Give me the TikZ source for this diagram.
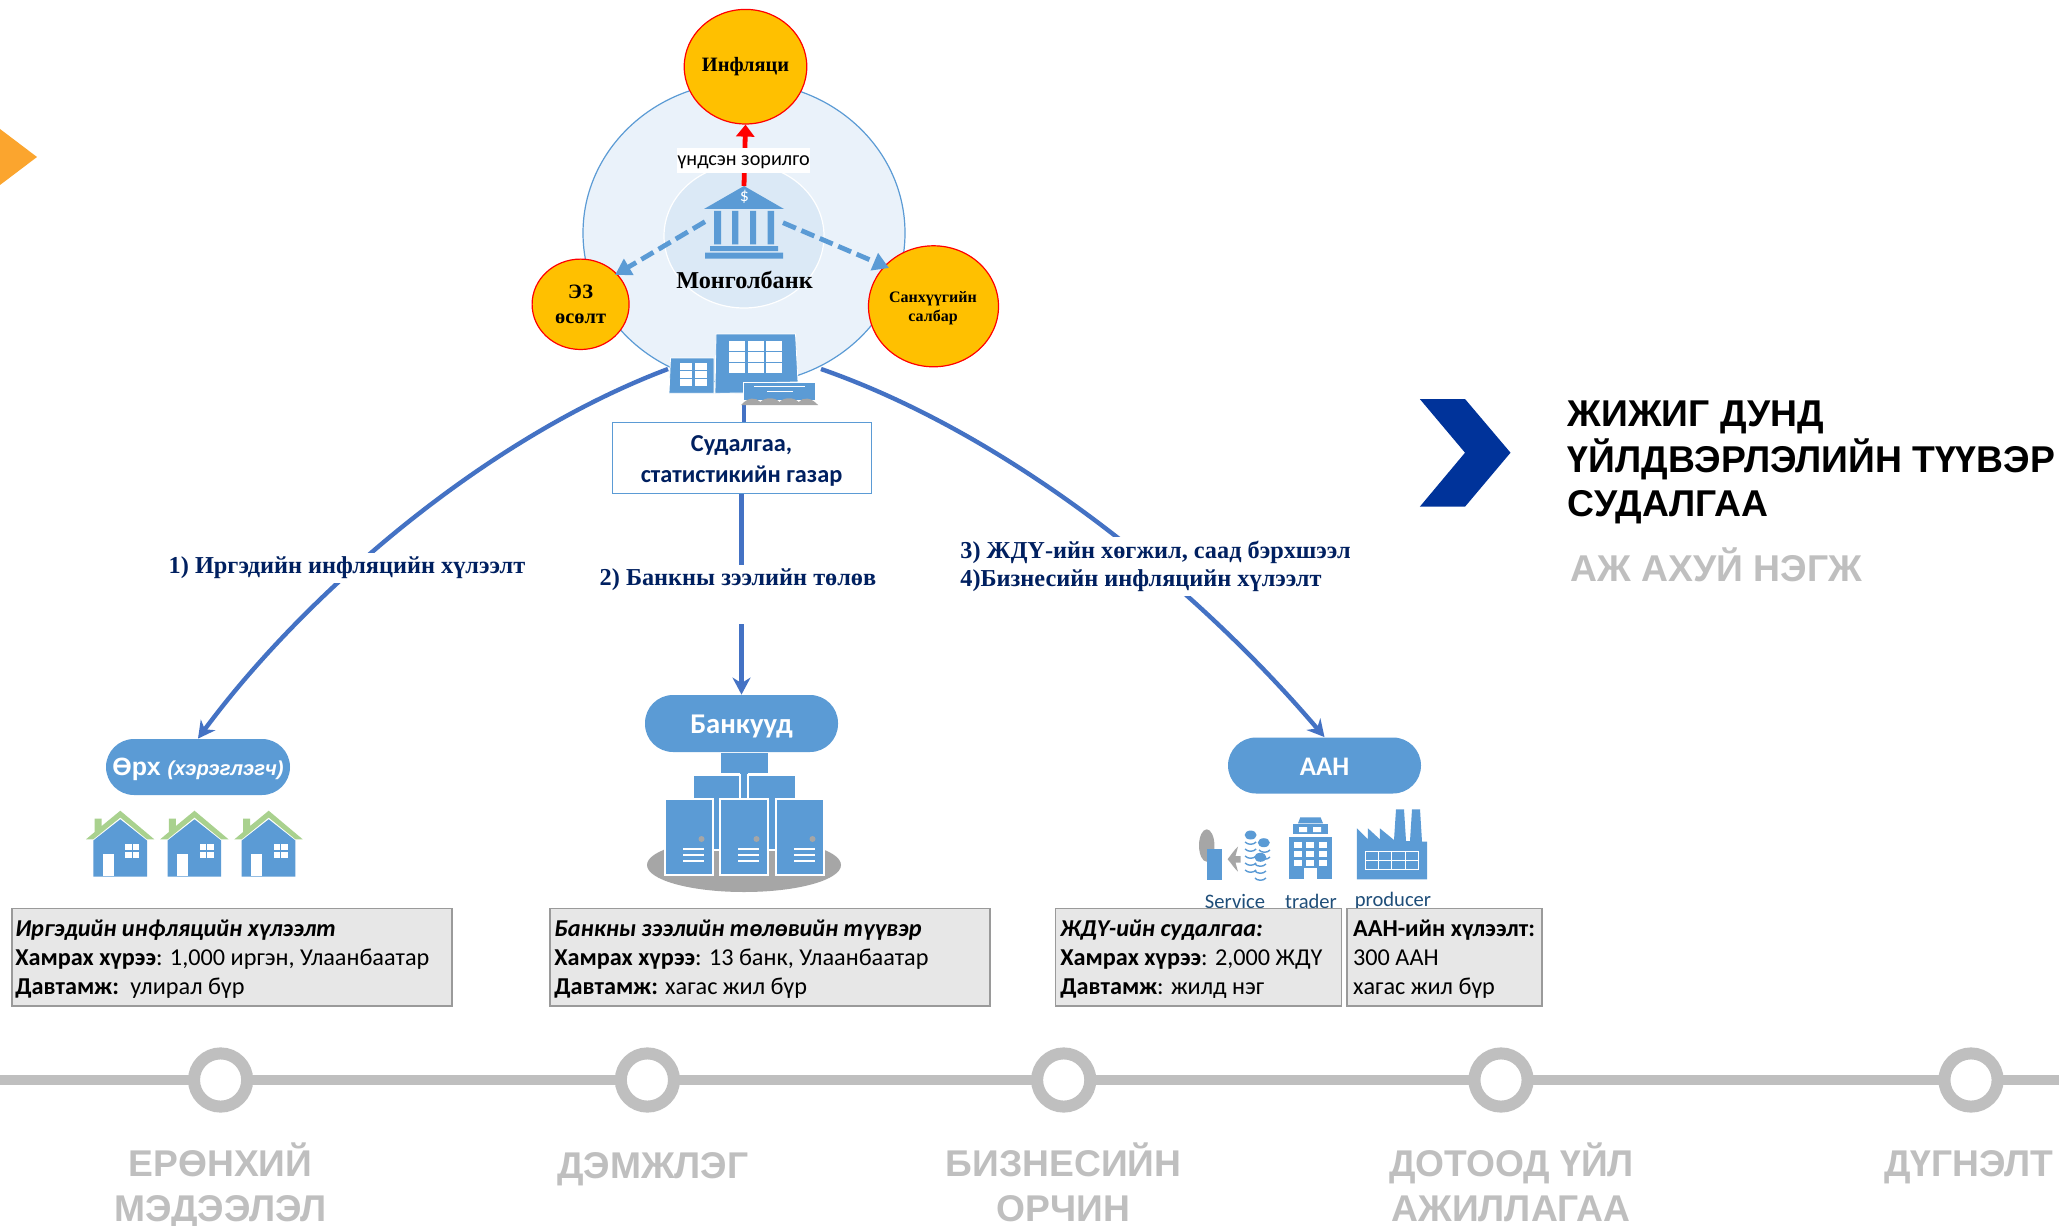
\documentclass[tikz,border=0pt]{standalone}
\usepackage{fontspec}
\setmainfont{Liberation Serif}
\newfontfamily\arialf{Liberation Sans}
\newfontfamily\calf{Carlito}
\usetikzlibrary{arrows.meta,shapes.geometric}
\definecolor{iconblue}{HTML}{5B9BD5}
\definecolor{linkblue}{HTML}{4472C4}
\definecolor{navy}{HTML}{002060}
\definecolor{amber}{HTML}{FFC000}
\definecolor{railgray}{HTML}{BFBFBF}
\definecolor{boxfill}{HTML}{E7E7E7}
\definecolor{boxline}{HTML}{9A9A9A}
\definecolor{darkgray}{HTML}{A6A6A6}
\definecolor{roofgreen}{HTML}{A9D18E}
\definecolor{chevron}{HTML}{00339A}
\definecolor{cornerorange}{HTML}{FBA52E}
\definecolor{iconlabel}{HTML}{1F4E79}
\newcommand{\fsz}[1]{\fontsize{#1}{#1}\selectfont}
\newcommand{\drawhouse}[1]{%
  \begin{scope}[shift={(#1,0)}]
    \fill[roofgreen] (86,839.3) -- (94.7,832) -- (94.7,818.7) -- (101.7,818.7) -- (101.7,826) -- (120.3,810.7) -- (154.3,839.3) -- (147,839.3) -- (120.3,817.5) -- (93.3,839.3) -- cycle;
    \fill[iconblue] (93.3,876.7) -- (93.3,840.5) -- (120.3,819.3) -- (147,840.5) -- (147,876.7) -- cycle;
    \fill[white] (102.7,854) rectangle (114,875.7);
    \fill[white] (125.3,844.3) rectangle (131.6,850.3);
    \fill[white] (133,844.3) rectangle (139.3,850.3);
    \fill[white] (125.3,852) rectangle (131.6,858);
    \fill[white] (133,852) rectangle (139.3,858);
  \end{scope}}
\newcommand{\drawserver}[1]{%
  \begin{scope}[shift={(#1,0)}]
    \draw[white,line width=0.6pt,fill=iconblue] (665,799) rectangle (713,875);
    \fill[darkgray] (701.5,839) circle (3);
    \draw[white,line width=0.7pt] (683,849) -- (704,849) (683,855) -- (704,855) (683,861) -- (704,861);
  \end{scope}}
\newcommand{\coinarc}[2]{\draw[iconblue,line width=0.7pt] (#1-5.5,#2) .. controls (#1-3,#2+3) and (#1+3,#2+3) .. (#1+5.5,#2);}
\tikzset{
  orb/.style={ellipse,draw=red,line width=0.6pt,fill=amber,inner sep=0pt},
  pill/.style={rounded corners=14pt,fill=iconblue,inner sep=0pt},
  pilltext/.style={inner sep=0pt,text=white,font=\calf\bfseries\fsz{14.3}},
  infobox/.style={fill=boxfill,draw=boxline,line width=0.7pt},
  infotext/.style={anchor=base west,inner sep=0pt,font=\calf\fsz{12.12}},
  flowlabel/.style={fill=white,inner sep=2pt,text=navy,font=\bfseries\fsz{12.15}},
  link/.style={linkblue,line width=2.2pt,-{Stealth[length=8.5pt,width=9pt]}},
  dashlink/.style={iconblue,line width=2.4pt,dash pattern=on 7pt off 3pt,-{Triangle[length=8pt,width=9pt]}},
  railtext/.style={anchor=base,inner sep=0pt,text=railgray,font=\arialf\bfseries\fsz{18.6}},
  railstop/.style={circle,draw=railgray,line width=6pt,fill=white,minimum size=26.6pt,inner sep=0pt},
  titletext/.style={anchor=base west,inner sep=0pt,font=\arialf\bfseries\fsz{18.65}},
  icontext/.style={inner sep=0pt,text=iconlabel,font=\calf\fsz{10.3}},
}
\begin{document}
\begin{tikzpicture}[x=0.5pt,y=-0.5pt]
\useasboundingbox (0,0) rectangle (2059,1225);
\fill[white] (0,0) rectangle (2059,1225);
% corner triangle
\fill[cornerorange] (0,129) -- (37,157) -- (0,185) -- cycle;
% central rings
\draw[fill=iconblue!13,draw=iconblue,line width=0.6pt] (744,233) ellipse [x radius=161,y radius=151];
\draw[fill=iconblue!22,draw=white,line width=0.6pt] (744,236) ellipse [x radius=80,y radius=72];
% bank icon
\fill[iconblue] (744,186) -- (784,209) -- (704,209) -- cycle;
\node[text=white,inner sep=0pt,font=\calf\fsz{9}] (dollar) at (744.5,197) {\$};
\fill[iconblue] (714.2,211) rectangle (721,244.3) (732,211) rectangle (738.3,244.3) (750,211) rectangle (756.2,244.3) (767.6,211) rectangle (774,244.3);
\fill[iconblue] (710,246) rectangle (778,251) (705,252.7) rectangle (783,258.7);
\node[inner sep=0pt,font=\bfseries\fsz{12.1}] (mongolbank) at (744.5,280) {Монголбанк};
% outer orbs
\node[orb,minimum width=61.3pt,minimum height=57.3pt] (inflation) at (745.5,66.7) {};
\node[inner sep=0pt,font=\bfseries\fsz{10.2}] (inflationT) at (745.5,67) {Инфляци};
\node[orb,minimum width=48.5pt,minimum height=45.2pt] (growth) at (580.6,304.3) {};
\node[inner sep=0pt,font=\bfseries\fsz{10.2}] (growthA) at (580.6,291.5) {ЭЗ};
\node[inner sep=0pt,font=\bfseries\fsz{10.2}] (growthB) at (580.6,318.5) {өсөлт};
\node[orb,minimum width=65pt,minimum height=60.5pt] (finance) at (933.5,306.3) {};
\node[inner sep=0pt,font=\bfseries\fsz{8}] (financeA) at (933,299) {Санхүүгийн};
\node[inner sep=0pt,font=\bfseries\fsz{8}] (financeB) at (933,317.5) {салбар};
% arrows from the bank
\coordinate (cbtop) at (744,186);
\coordinate (cbl) at (705,221.7);
\coordinate (cbr) at (783,222.7);
\coordinate (tipL) at (615,275);
\coordinate (tipR) at (889,268);
\draw[red,line width=2.4pt,-{Triangle[length=6pt,width=9pt]}] (cbtop) -- (inflation.south);
\node[fill=white,inner sep=0pt,minimum width=66.5pt,minimum height=12.4pt] (goal) at (743.5,160.5) {};
\node[inner sep=0pt,font=\calf\fsz{10.1}] (goalT) at (743.5,162.5) {үндсэн зорилго};
\draw[dashlink] (cbl) -- (tipL);
\draw[dashlink] (cbr) -- (tipR);
% lower nodes
\node[pill,minimum width=92pt,minimum height=28pt] (orkh) at (198,767) {};
\node[inner sep=0pt,text=white,font=\arialf\bfseries\fsz{12.5}] (orkhT) at (198,769.5) {Өрх \fsz{10.1}\itshape(хэрэглэгч)};
\node[pill,minimum width=96.5pt,minimum height=28.5pt] (banks) at (741.5,723.5) {};
\node[pilltext] (banksT) at (741.5,727) {Банкууд};
\node[pill,minimum width=96.5pt,minimum height=28pt] (firms) at (1324.5,765.5) {};
\node[pilltext,font=\calf\bfseries\fsz{13.4}] (firmsT) at (1324.5,767) {ААН};
% survey office icon
\coordinate (officeL) at (668,369);
\coordinate (officeB) at (744,405);
\coordinate (officeR) at (821,369);
\node[draw=iconblue,line width=0.5pt,fill=white,minimum width=129.5pt,minimum height=35.5pt,inner sep=0pt] (stat) at (741.5,457.5) {};
\node[inner sep=0pt,align=center,text=navy,font=\calf\bfseries\fsz{12.15}] (statT) at (741.5,461) {Судалгаа,\\[3.2pt]статистикийн газар};
% connectors
\draw[linkblue,line width=2.2pt] (officeB) -- (stat.north -| officeB);
\draw[link] (stat.south) -- (banks.north);
\draw[link] (officeL) .. controls (480,440) and (300,600) .. (orkh.north);
\draw[link] (officeR) .. controls (1010,435) and (1195,585) .. (firms.north);
% office buildings
\draw[white,line width=0.4pt,fill=iconblue] (670.5,358) -- (714,358) -- (714,393.3) -- (669,393.3) -- cycle;
\foreach \yy in {363,371,379}{\foreach \xx in {680.4,695}{\fill[white] (\xx,\yy) rectangle ++(12,6.5);}}
\draw[white,line width=0.4pt,fill=iconblue] (716,334) -- (795.5,334) -- (798,382) -- (744,383) -- (744,393) -- (715,393.3) -- cycle;
\foreach \yy in {341,352,363}{\foreach \xx in {729,747.5,766}{\fill[white] (\xx,\yy) rectangle ++(16,9.5);}}
\draw[white,line width=0.4pt,fill=iconblue] (743.8,382.7) rectangle (815.4,400);
\draw[white,line width=0.7pt] (754,386.7) -- (805,386.7) (767,391.7) -- (793,391.7);
\fill[darkgray] (741,405) -- (818,405) .. controls (811,397) and (803,397) .. (798.7,402) .. controls (794,397) and (784,397) .. (779.5,402) .. controls (775,397) and (765,397) .. (760.3,402) .. controls (756,397) and (748,397) .. (741,405) -- cycle;
% houses
\drawhouse{0}\drawhouse{74.2}\drawhouse{148.4}
% server group
\fill[darkgray] (744,865) ellipse [x radius=97,y radius=27];
\fill[iconblue] (721,753) rectangle (768,773);
\fill[iconblue] (740,773) rectangle (748,800);
\draw[white,line width=0.6pt,fill=iconblue] (693,775) rectangle (740,850);
\draw[white,line width=0.6pt,fill=iconblue] (748,775) rectangle (796,850);
\drawserver{0}\drawserver{55}\drawserver{111}
% service icon
\fill[darkgray] (1206.7,845.5) ellipse [x radius=7.7,y radius=16.2];
\fill[iconblue] (1207.3,849) rectangle (1221.9,879.7);
\fill[darkgray] (1227.6,859.2) .. controls (1231,855) and (1234,850) .. (1238,846.7) -- (1235.5,856) -- (1240.5,856) -- (1240.5,862.5) -- (1235.5,862.5) -- (1238,871.7) .. controls (1234,868) and (1231,863) .. (1227.6,859.2) -- cycle;
\foreach \yy in {842,849,856,863,870}{\coinarc{1250.6}{\yy}}
\foreach \yy in {850,857}{\coinarc{1264.5}{\yy}}
\foreach \yy in {864,871,878}{\coinarc{1260.4}{\yy}}
\fill[iconblue] (1250.6,835) ellipse [x radius=6,y radius=4.5];
\fill[iconblue] (1263.8,842.7) ellipse [x radius=6,y radius=4.5];
\fill[iconblue] (1260.4,857.3) ellipse [x radius=6,y radius=4.5];
% trader icon
\fill[iconblue] (1288.5,836.7) rectangle (1332,879.3);
\fill[iconblue] (1292.9,824) rectangle (1328,834);
\fill[iconblue] (1300.3,817.3) -- (1320.6,817.3) -- (1323,823.3) -- (1298,823.3) -- cycle;
\fill[white] (1299,827) rectangle (1307,832) (1313,827) rectangle (1321,832);
\foreach \yy in {842,851,860}{\foreach \xx in {1293.5,1306,1318.5}{\fill[white] (\xx,\yy) rectangle ++(8,6);}}
\fill[white] (1304,868) rectangle (1317,879.3);
% producer icon
\fill[iconblue] (1356.8,879.3) -- (1356.8,828.3) -- (1367.9,839.3) -- (1367.9,828.3) -- (1379.8,839.3) -- (1379.8,828.3) -- (1394,840) -- (1396,809.3) -- (1404,809.3) -- (1406,841) -- (1410,841) -- (1412,809.3) -- (1420,809.3) -- (1422,841.7) -- (1427,841.7) -- (1427,879.3) -- cycle;
\draw[white,line width=0.5pt] (1365,851.7) rectangle (1418,869.3) (1365,860.5) -- (1418,860.5) (1378,851.7) -- (1378,869.3) (1391.5,851.7) -- (1391.5,869.3) (1405,851.7) -- (1405,869.3);
\node[icontext] (svc) at (1235,901) {Service};
\node[icontext] (trd) at (1311,901) {trader};
\node[icontext] (prd) at (1393,901) {producer};
% flow labels
\node[flowlabel] (lab1) at (347,568) {1) Иргэдийн инфляцийн хүлээлт};
\node[flowlabel,anchor=base,text height=8pt,text depth=17.5pt] (lab2) at (738,585) {2) Банкны зээлийн төлөв};
\node[flowlabel,align=left,anchor=west] (lab3) at (956,566.5) {3) ЖДҮ-ийн хөгжил, саад бэрхшээл\\[1.6pt]4)Бизнесийн инфляцийн хүлээлт};
% info boxes
\draw[infobox] (12,908.5) rectangle (452,1006);
\draw[infobox] (550,908.5) rectangle (990,1006);
\draw[infobox] (1055.2,908.5) rectangle (1341.6,1006);
\draw[infobox] (1347,908.5) rectangle (1542,1006);
\node[infotext] (a1) at (15,936) {\bfseries\itshape Иргэдийн инфляцийн хүлээлт};
\node[infotext] (a2) at (15,965) {\textbf{Хамрах хүрээ}: 1,000 иргэн, Улаанбаатар};
\node[infotext] (a3) at (15,994) {\textbf{Давтамж:}\, улирал бүр};
\node[infotext] (b1) at (554,936) {\bfseries\itshape Банкны зээлийн төлөвийн түүвэр};
\node[infotext] (b2) at (554,965) {\textbf{Хамрах хүрээ}: 13 банк, Улаанбаатар};
\node[infotext] (b3) at (554,994) {\textbf{Давтамж:} хагас жил бүр};
\node[infotext] (c1) at (1060,936) {\bfseries\itshape ЖДҮ-ийн судалгаа:};
\node[infotext] (c2) at (1060,965) {\textbf{Хамрах хүрээ}: 2,000 ЖДҮ};
\node[infotext] (c3) at (1060,994) {\textbf{Давтамж}: жилд нэг};
\node[infotext] (d1) at (1352.7,936) {\textbf{ААН-ийн хүлээлт:}};
\node[infotext] (d2) at (1352.7,965) {300 ААН};
\node[infotext] (d3) at (1352.7,994) {хагас жил бүр};
% title block
\fill[chevron] (1419.8,399) -- (1465,399) -- (1510.5,452.7) -- (1465,506.7) -- (1419.8,506.7) -- (1465,452.7) -- cycle;
\node[titletext] (t1) at (1567.3,426.7) {ЖИЖИГ ДУНД};
\node[titletext] (t2) at (1567.3,472) {ҮЙЛДВЭРЛЭЛИЙН ТҮҮВЭР};
\node[titletext] (t3) at (1567.3,516.7) {СУДАЛГАА};
\node[titletext,text=railgray] (t4) at (1570,581.7) {АЖ АХУЙ НЭГЖ};
% rail
\coordinate (railL) at (0,1080);
\coordinate (railR) at (2059,1080);
\draw[railgray,line width=5.3pt] (railL) -- (railR);
\node[railstop] (s1) at (220.6,1080) {};
\node[railstop] (s2) at (647.4,1080) {};
\node[railstop] (s3) at (1063.7,1080) {};
\node[railstop] (s4) at (1501,1080) {};
\node[railstop] (s5) at (1971,1080) {};
\node[railtext] (r1a) at (220.6,1176) {ЕРӨНХИЙ};
\node[railtext] (r1b) at (220.6,1221) {МЭДЭЭЛЭЛ};
\node[railtext] (r2) at (652.7,1178.5) {ДЭМЖЛЭГ};
\node[railtext] (r3a) at (1063.7,1176) {БИЗНЕСИЙН};
\node[railtext] (r3b) at (1063.7,1221) {ОРЧИН};
\node[railtext] (r4a) at (1511.5,1176) {ДОТООД ҮЙЛ};
\node[railtext] (r4b) at (1511,1221) {АЖИЛЛАГАА};
\node[railtext] (r5) at (1968.5,1176) {ДҮГНЭЛТ};
\end{tikzpicture}
\end{document}
